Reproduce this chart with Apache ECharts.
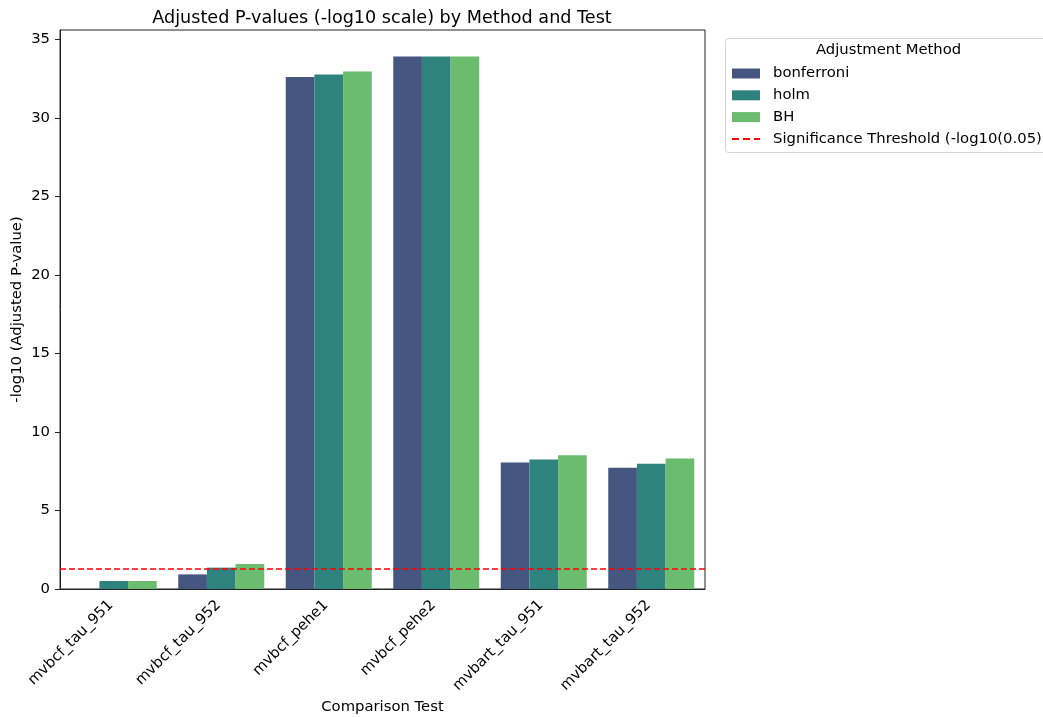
<!DOCTYPE html>
<html>
<head>
<meta charset="utf-8">
<script src="https://cdn.jsdelivr.net/npm/echarts@6/dist/echarts.min.js"></script>
<style>
  html, body { margin: 0; padding: 0; background: #fff; }
  #chart { width: 1043px; height: 717px; }
</style>
</head>
<body>
<div id="chart"></div>
<script>
// Comparison tests on the x axis
const tests = ['mvbcf_tau_951', 'mvbcf_tau_952', 'mvbcf_pehe1', 'mvbcf_pehe2', 'mvbart_tau_951', 'mvbart_tau_952'];
// -log10 adjusted p-values per adjustment method
const bonferroni = [0.0, 0.93, 32.61, 33.91, 8.06, 7.72];
const holm = [0.51, 1.36, 32.76, 33.91, 8.25, 7.97];
const bh = [0.51, 1.59, 32.95, 33.91, 8.52, 8.31];
const methodNames = ['bonferroni', 'holm', 'BH'];
const methodColors = ['#455681', '#2f837f', '#6bbc6e'];
const yTicks = [0, 5, 10, 15, 20, 25, 30, 35];
const threshold = -Math.log10(0.05);
const thresholdName = 'Significance Threshold (-log10(0.05))';

const FONT = 'DejaVu Sans';
const FS = 14.8;
const chart = echarts.init(document.getElementById('chart'), null, { renderer: 'canvas' });

const methodValues = [bonferroni, holm, bh];
const barSeries = methodNames.map((name, i) => ({
  name: name,
  type: 'bar',
  data: methodValues[i],
  barGap: '0%',
  barCategoryGap: '20%',
  itemStyle: { color: methodColors[i] },
  emphasis: { disabled: true }
}));

// dashed-line legend icon: three short dashes, with tiny corner points holding the 28x10 box
const dashIcon = 'path://M0,0h0.01v0.01h-0.01z M0,4h7v2h-7z M11,4h7v2h-7z M22,4h6v2h-6z M27.99,9.99h0.01v0.01h-0.01z';

const option = {
  animation: false,
  backgroundColor: '#fff',
  textStyle: { fontFamily: FONT },
  title: {
    text: 'Adjusted P-values (-log10 scale) by Method and Test',
    left: 377, top: 4, textAlign: 'center',
    textStyle: { fontFamily: FONT, fontSize: 17.6, fontWeight: 'normal', color: '#000' }
  },
  grid: {
    left: 60, right: 338, top: 30, bottom: 128,
    outerBoundsMode: 'none',
    containLabel: false,
    show: true, borderColor: '#222', borderWidth: 1, backgroundColor: 'transparent'
  },
  legend: {
    orient: 'vertical',
    left: 727, top: 61,
    itemWidth: 28, itemHeight: 10, itemGap: 6.8,
    textStyle: { fontFamily: FONT, fontSize: FS, color: '#000', padding: [0, 0, 0, 8] },
    data: methodNames.map(n => ({ name: n, icon: 'rect' }))
      .concat([{ name: thresholdName, icon: dashIcon, itemStyle: { color: '#ff0000' } }]),
    selectedMode: false
  },
  graphic: [
    {
      type: 'rect', left: 725, top: 38, z: 0,
      shape: { width: 330, height: 114, r: 3 },
      style: { fill: '#fff', stroke: '#d5d5d5', lineWidth: 1 }
    },
    {
      type: 'text', left: 816, top: 43, z: 1,
      style: { text: 'Adjustment Method', font: FS + 'px "DejaVu Sans"', fill: '#000' }
    }
  ],
  xAxis: {
    type: 'category',
    data: tests,
    name: 'Comparison Test',
    nameLocation: 'middle', nameGap: 111,
    nameMoveOverlap: false,
    nameTextStyle: { fontFamily: FONT, fontSize: FS, color: '#000' },
    axisLine: { lineStyle: { color: '#222', width: 1 } },
    axisTick: { alignWithLabel: true, length: 5, lineStyle: { color: '#222' } },
    axisLabel: { rotate: 45, fontFamily: FONT, fontSize: FS, color: '#000', margin: 11, padding: [0, 4, 0, 0] }
  },
  yAxis: {
    type: 'value',
    min: 0, max: 35.6, interval: 5,
    name: '-log10 (Adjusted P-value)',
    nameLocation: 'middle', nameGap: 35,
    nameMoveOverlap: false,
    nameTextStyle: { fontFamily: FONT, fontSize: FS, color: '#000' },
    splitLine: { show: false },
    axisLine: { show: true, lineStyle: { color: '#222', width: 1 } },
    axisTick: { show: true, length: 5, lineStyle: { color: '#222' }, customValues: yTicks },
    axisLabel: { fontFamily: FONT, fontSize: FS, color: '#000', margin: 10, customValues: yTicks }
  },
  series: barSeries.concat([{
    name: thresholdName,
    type: 'line',
    data: [],
    symbol: 'none',
    itemStyle: { color: '#ff0000' },
    lineStyle: { color: '#ff0000', width: 1.6, type: [6, 3] },
    markLine: {
      silent: true,
      symbol: ['none', 'none'],
      label: { show: false },
      lineStyle: { color: '#ff0000', width: 1.6, type: [6, 3] },
      data: [{ yAxis: threshold }]
    }
  }])
};

chart.setOption(option);
</script>
</body>
</html>
